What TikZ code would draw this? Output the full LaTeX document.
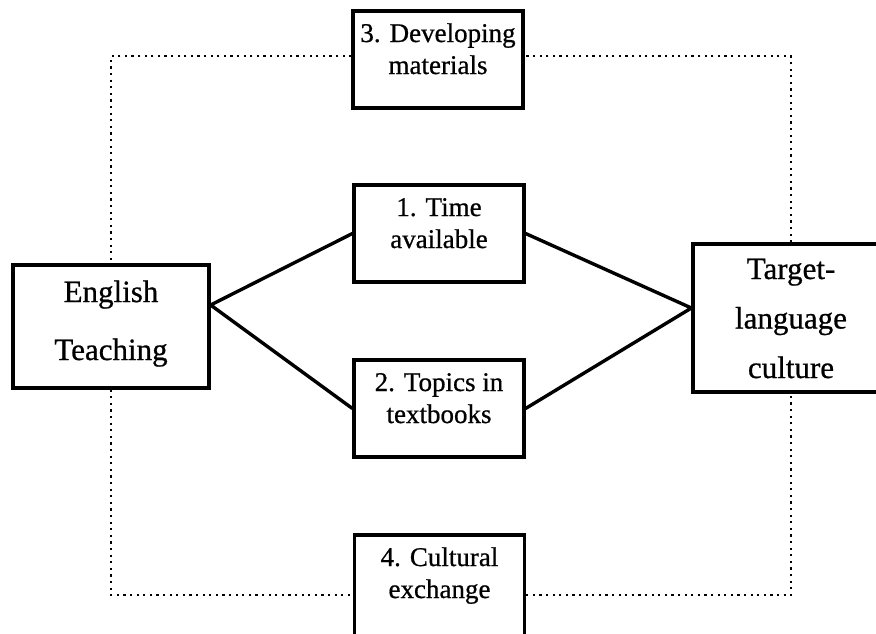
\documentclass[tikz,border=0pt]{standalone}
\usepackage{fontspec}
\setmainfont{Liberation Serif}[FakeBold=0.7]
\tikzset{
  box/.style={draw, line width=3.2pt, fill=white, inner sep=0pt, anchor=base},
  smallbox/.style={box, minimum width=170pt, text height=31pt, text depth=66pt,
    font=\fontsize{27}{32}\selectfont},
  bigbox/.style={box, minimum width=196pt, font=\fontsize{31}{58}\selectfont},
  link/.style={line width=3.4pt},
  frame/.style={line width=2.2pt, dash pattern=on 2.2pt off 4.4pt}
}
\begin{document}
\begin{tikzpicture}[x=1pt,y=-1pt]
\useasboundingbox (0,0) rectangle (876,633);
\clip (0,0) rectangle (876,633);
% boxes
\node[smallbox] (b3) at (438,42) {\parbox[t]{165pt}{\centering 3. Developing\\materials}};
\node[smallbox] (b1) at (439,216) {\parbox[t]{165pt}{\centering 1. Time\\available}};
\node[smallbox] (b2) at (439,391) {\parbox[t]{165pt}{\centering 2. Topics in\\textbooks}};
\node[smallbox, text depth=72pt] (b4) at (439.5,566) {\parbox[t]{165pt}{\centering 4. Cultural\\exchange}};
\node[bigbox, text height=37pt, text depth=86pt] (English) at (111,302)
  {\parbox[t]{190pt}{\centering English\\Teaching}};
\node[bigbox, text height=35pt, text depth=113pt, font=\fontsize{31}{49.5}\selectfont] (Target) at (791,279)
  {\parbox[t]{190pt}{\centering Target-\\language\\culture}};
% dotted frame
\draw[frame] ([yshift=3.5pt]b3.west) -| (English.north);
\draw[frame] (English.south) |- ([yshift=-8.5pt]b4.west);
\draw[frame] ([yshift=-8.5pt]b4.east) -| (Target.south);
\draw[frame] (Target.north) |- ([yshift=3.5pt]b3.east);
% connectors
\coordinate (ej) at ([yshift=21.5pt]English.east);
\coordinate (tj) at ([yshift=10pt]Target.west);
\draw[link] (b1.west) -- (ej) -- (b2.west);
\draw[link] (b1.east) -- (tj) -- (b2.east);
\end{tikzpicture}
\end{document}
